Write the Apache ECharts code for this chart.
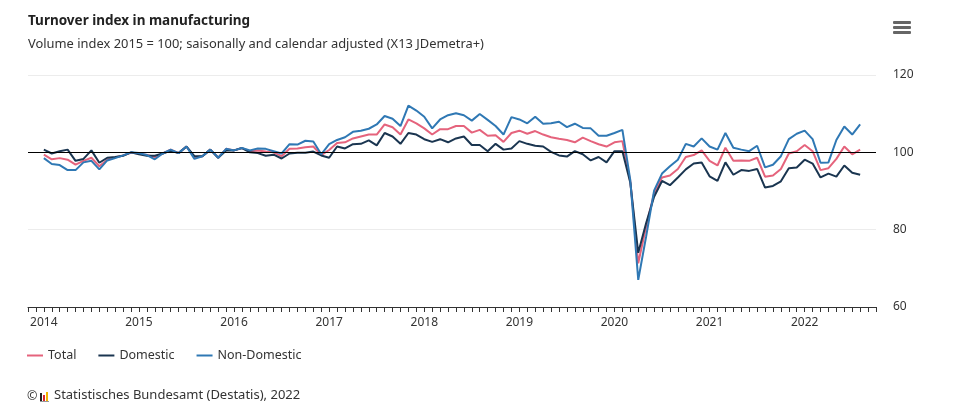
<!DOCTYPE html>
<html>
<head>
<meta charset="utf-8">
<script src="https://cdn.jsdelivr.net/npm/echarts@6/dist/echarts.min.js"></script>
<style>
html,body{margin:0;padding:0;background:#fff;}
#chart{width:959px;height:414px;}
</style>
</head>
<body>
<div id="chart"></div>
<script>
// Months shown on the axis: Nov 2013 .. Oct 2022 (data Jan 2014 .. Aug 2022)
const axisStart = {y: 2013, m: 11};
const axisMonthCount = 108;
const dataStartOffset = 2; // Jan 2014 is the 3rd axis category

const total = [
  99.4, 98.2, 98.5, 98.1, 96.8, 97.8, 98.6, 96.4, 98.1, 98.7, 99.2, 99.9,
  99.7, 99.3, 98.8, 99.7, 100.7, 99.8, 101.5, 98.7, 99.0, 100.7, 98.6, 100.9,
  100.5, 101.1, 100.3, 100.5, 100.2, 100.0, 99.0, 100.9, 101.0, 101.3, 101.5, 99.3,
  100.6, 102.4, 102.6, 103.6, 104.1, 104.6, 104.6, 107.2, 106.5, 104.6, 108.5, 107.5,
  106.2, 104.6, 106.0, 106.0, 106.8, 106.8, 105.1, 105.8, 104.3, 104.4, 102.7, 105.0,
  105.6, 104.8, 105.5, 104.6, 103.9, 103.5, 103.2, 102.6, 103.8, 102.9, 102.1, 101.5,
  102.6, 102.9, 92.4, 71.3, 80.9, 89.4, 93.5, 94.0, 95.7, 98.8, 99.3, 100.5,
  97.8, 96.6, 101.2, 97.8, 97.9, 97.8, 98.6, 93.7, 94.0, 95.7, 99.7, 100.3,
  101.9, 100.3, 95.4, 95.9, 98.3, 101.5, 99.5, 100.7
];
const domestic = [
  100.7, 99.7, 100.3, 100.7, 97.8, 98.3, 100.5, 97.3, 98.6, 98.8, 99.1, 100.0,
  99.5, 99.1, 99.1, 99.7, 100.4, 99.8, 101.5, 99.0, 99.0, 100.7, 98.6, 100.5,
  100.5, 101.1, 100.0, 99.8, 99.1, 99.4, 98.4, 99.7, 99.9, 99.9, 100.2, 99.2,
  98.6, 101.5, 101.0, 102.1, 102.2, 103.1, 101.8, 105.0, 104.1, 102.2, 105.0, 104.6,
  103.4, 102.7, 103.4, 102.6, 103.6, 104.1, 101.9, 101.9, 100.3, 102.2, 100.7, 101.0,
  102.9, 102.2, 101.7, 101.5, 100.1, 99.2, 98.9, 100.3, 99.5, 97.9, 98.8, 97.4,
  100.3, 100.3, 92.1, 74.0, 81.7, 88.5, 92.6, 91.5, 93.5, 95.6, 97.1, 97.4,
  93.8, 92.6, 97.4, 94.2, 95.4, 95.2, 95.7, 90.9, 91.3, 92.5, 95.9, 96.1,
  98.1, 97.1, 93.5, 94.5, 93.7, 96.6, 94.7, 94.2
];
const nonDomestic = [
  98.5, 97.0, 96.7, 95.4, 95.4, 97.4, 97.8, 95.6, 97.9, 98.5, 99.2, 100.0,
  99.8, 99.3, 98.2, 99.7, 100.7, 99.8, 101.5, 98.3, 99.0, 100.7, 98.6, 100.9,
  100.5, 101.1, 100.5, 101.0, 100.9, 100.3, 99.7, 102.1, 102.0, 103.0, 102.8, 99.5,
  102.1, 103.2, 103.9, 105.3, 105.6, 106.1, 107.2, 109.4, 108.7, 106.8, 112.1, 110.8,
  109.2, 106.2, 108.5, 109.6, 110.1, 109.6, 108.2, 109.9, 108.4, 106.8, 104.6, 109.1,
  108.5, 107.5, 109.2, 107.4, 107.5, 107.9, 106.5, 107.4, 106.3, 106.2, 104.3, 104.3,
  105.0, 105.8, 92.8, 67.0, 78.3, 90.1, 94.5, 96.4, 98.1, 102.2, 101.5, 103.6,
  101.5, 100.7, 105.0, 101.2, 100.7, 100.3, 101.7, 96.1, 96.8, 99.0, 103.4, 104.8,
  105.6, 103.4, 97.3, 97.4, 103.2, 106.7, 104.6, 107.2
];
const yTicks = [60, 80, 100, 120];
const seriesNames = ['Total', 'Domestic', 'Non-Domestic'];

// build category list
const categories = [];
{
  let y = axisStart.y, m = axisStart.m;
  for (let i = 0; i < axisMonthCount; i++) {
    categories.push(y + '-' + String(m).padStart(2, '0'));
    m++; if (m > 12) { m = 1; y++; }
  }
}
function pad(arr) {
  const out = new Array(axisMonthCount).fill(null);
  arr.forEach((v, i) => { out[i + dataStartOffset] = v; });
  return out;
}

const FONT = '"Noto Sans", sans-serif';
const chart = echarts.init(document.getElementById('chart'), null, {renderer: 'canvas'});
chart.setOption({
  animation: false,
  backgroundColor: '#fff',
  textStyle: {fontFamily: FONT},
  title: [
    {text: 'Turnover index in manufacturing', left: 28, top: 14, padding: 0,
     textStyle: {fontFamily: FONT, fontSize: 13.5, fontWeight: 'bold', color: '#222'}},
    {text: 'Volume index 2015 = 100; saisonally and calendar adjusted (X13 JDemetra+)', left: 28, top: 38, padding: 0,
     textStyle: {fontFamily: FONT, fontSize: 12.9, fontWeight: 'normal', color: '#333'}}
  ],
  legend: {
    left: 22, top: 344, icon: 'rect', itemWidth: 16, itemHeight: 2, itemGap: 22,
    textStyle: {fontFamily: FONT, fontSize: 12.5, color: '#333'},
    data: seriesNames
  },
  grid: {left: 28, right: 83, top: 75, bottom: 107, containLabel: false},
  xAxis: {
    type: 'category', data: categories, boundaryGap: false,
    axisLine: {lineStyle: {color: '#333', width: 1}},
    axisTick: {show: true, interval: 0, length: 5, lineStyle: {color: '#333'}},
    axisLabel: {
      interval: (idx, val) => val.endsWith('-01'),
      formatter: v => v.slice(0, 4),
      color: '#333', fontSize: 12, margin: 10, fontFamily: FONT
    },
    splitLine: {show: false}
  },
  yAxis: {
    type: 'value', position: 'right', min: yTicks[0], max: yTicks[yTicks.length - 1], interval: 20,
    axisLine: {show: false}, axisTick: {show: false},
    axisLabel: {color: '#333', fontSize: 12, margin: 17, fontFamily: FONT},
    splitLine: {lineStyle: {color: '#ececec', width: 1}}
  },
  series: [
    {name: seriesNames[0], type: 'line', data: pad(total), showSymbol: false, symbol: 'none',
     lineStyle: {color: '#e5637c', width: 2}, itemStyle: {color: '#e5637c'},
     markLine: {silent: true, symbol: 'none', label: {show: false},
       lineStyle: {color: '#000', type: 'solid', width: 1}, data: [{yAxis: 100}]}},
    {name: seriesNames[1], type: 'line', data: pad(domestic), showSymbol: false, symbol: 'none',
     lineStyle: {color: '#1a3550', width: 2}, itemStyle: {color: '#1a3550'}},
    {name: seriesNames[2], type: 'line', data: pad(nonDomestic), showSymbol: false, symbol: 'none',
     lineStyle: {color: '#2f78b4', width: 2}, itemStyle: {color: '#2f78b4'}}
  ],
  graphic: [
    {type: 'rect', left: 893, top: 21, shape: {width: 18, height: 3, r: 1}, style: {fill: '#666'}},
    {type: 'rect', left: 893, top: 26, shape: {width: 18, height: 3, r: 1}, style: {fill: '#666'}},
    {type: 'rect', left: 893, top: 31, shape: {width: 18, height: 3, r: 1}, style: {fill: '#666'}},
    {type: 'text', left: 27, top: 390, style: {text: '©', font: '12.5px ' + FONT, fill: '#333'}},
    {type: 'rect', left: 40, top: 393, shape: {width: 2, height: 8}, style: {fill: '#222'}},
    {type: 'rect', left: 43, top: 395, shape: {width: 2, height: 6}, style: {fill: '#d9262e'}},
    {type: 'rect', left: 46, top: 392, shape: {width: 2, height: 9}, style: {fill: '#f2b600'}},
    {type: 'rect', left: 40, top: 401, shape: {width: 9, height: 1}, style: {fill: '#999'}},
    {type: 'text', left: 54, top: 389, style: {text: 'Statistisches Bundesamt (Destatis), 2022', font: '13px ' + FONT, fill: '#333'}}
  ]
});
</script>
</body>
</html>
